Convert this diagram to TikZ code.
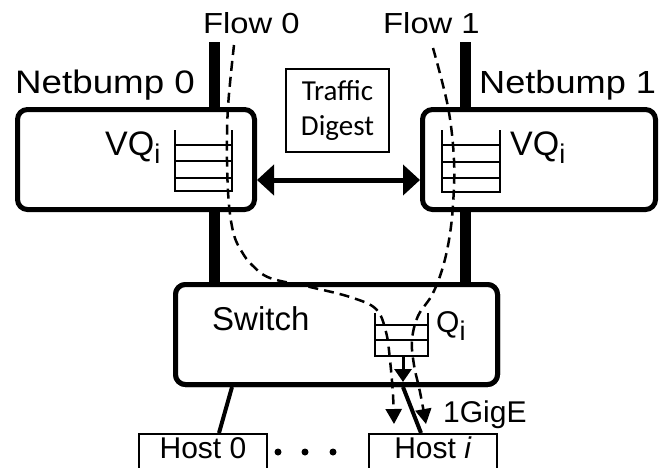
\documentclass[tikz,border=0pt]{standalone}
\usepackage{fontspec}
\setmainfont{Liberation Sans}
\newfontfamily\widesf[FakeStretch=1.13]{Liberation Sans}
\newfontfamily\digestfont{Carlito}
\usetikzlibrary{arrows.meta,positioning,calc}
\newcommand{\fsz}[1]{\fontsize{#1}{#1}\selectfont}
\newcommand{\sub}[1]{\raisebox{-8pt}{\fsz{27}#1}}

\begin{document}
\begin{tikzpicture}[x=1pt, y=-1pt, every node/.style={inner sep=0pt},
  nbbox/.style={draw, line width=5pt, rounded corners=10pt, fill=white, minimum height=100pt},
  thinbox/.style={draw, line width=1.6pt, fill=white},
  host/.style={thinbox, minimum width=128.5pt, inner ysep=3pt, text height=22pt, text depth=40pt, anchor=north, font=\fsz{30}},
  lbl/.style={anchor=base west, font=\fsz{30}},
  bar/.style={line width=11pt}, link/.style={line width=4pt}, que/.style={line width=1.8pt},
  flow/.style={line width=2.5pt, dash pattern=on 10pt off 6pt, -{Triangle[length=15pt,width=16pt]}},
  dbl/.style={line width=5pt, {Triangle[length=17pt,width=30pt]}-{Triangle[length=17pt,width=30pt]}},
  qarr/.style={line width=3pt, -{Triangle[length=13pt,width=17pt]}}]
  \useasboundingbox (0,0) rectangle (659,467);
  \clip (0,0) rectangle (659,467);
  % links from the netbumps down to the switch
  \coordinate (b0) at (214,42);
  \coordinate (b1) at (465,42);
  \node[nbbox, minimum width=322pt] (sw) at (336.5,334.5) {};
  \draw[bar] (b0) -- (b0 |- sw.north);
  \draw[bar] (b1) -- (b1 |- sw.north);
  \node[nbbox, minimum width=237pt] (nb0) at (136,159.5) {};
  \node[nbbox, minimum width=233pt] (nb1) at (539,159.5) {};
  \node[nbbox, minimum width=322pt] at (sw) {};
  \node[thinbox, minimum width=103.5pt, minimum height=83.5pt, align=center,
    font=\digestfont\fontsize{29}{35}\selectfont] (dig) at (337.5,110.5) {Traffic\\Digest};
  \node[host] (h0) at (203,433) {Host 0};
  \node[host] (hi) at (433,433) {Host \textit{i}};
  % queues
  \draw[que] (175,130) |- (232,191) -- (232,130);
  \foreach \y in {145,161,178} \draw[que] (175,\y) -- (232,\y);
  \draw[que] (442,130) |- (500,192) -- (500,130);
  \foreach \y in {145,162,178} \draw[que] (442,\y) -- (500,\y);
  \draw[que] (375,313) |- (428,356) -- (428,313);
  \foreach \y in {325,340} \draw[que] (375,\y) -- (428,\y);
  % labels
  \node[lbl, font=\widesf\fsz{32.5}] (nbl0) at (15,93) {Netbump 0};
  \node[lbl, font=\widesf\fsz{32}] (nbl1) at (479,93) {Netbump 1};
  \node[lbl, font=\widesf\fsz{29}] (fl0) at (203,33) {Flow 0};
  \node[lbl, font=\widesf\fsz{29}] (fl1) at (383,33) {Flow 1};
  \node[lbl, font=\fsz{34}] (vq0) at (105,155) {VQ\sub{i}};
  \node[lbl, font=\fsz{34}] (vq1) at (510,155) {VQ\sub{i}};
  \node[lbl, font=\fsz{33}] (swl) at (212,330) {Switch};
  \node[lbl] (ql) at (436,332) {Q\sub{i}};
  \node[lbl] (gig) at (443,422) {1GigE};
  % host links and dots
  \draw[link] ([xshift=-104.5pt]sw.south) -- ([xshift=16pt]h0.north);
  \draw[link] ([xshift=66.5pt]sw.south) -- ([xshift=-12pt]hi.north);
  \foreach \x in {278,305,333} \fill (\x,452) circle (3.5pt);
  % flows
  \draw[flow] plot[smooth, tension=0.6] coordinates {(234,45) (228,107) (227,160) (229,205) (234,235) (242,252) (252,265) (270,278) (310,287) (350,297) (376,309) (386,332) (390,360) (393,395) (394,424)};
  \draw[flow] plot[smooth, tension=0.6] coordinates {(433,48) (448,107) (454,160) (453,205) (449,240) (442,270) (432,295) (418,316) (412,340) (414,365) (420,392) (426,424)};
  \coordinate (qout) at (403,357);
  \draw[qarr] (qout) -- ++(0,25);
  \draw[dbl] ([yshift=-20.5pt]nb0.east) -- ([yshift=-20.5pt]nb1.west);
\end{tikzpicture}
\end{document}
